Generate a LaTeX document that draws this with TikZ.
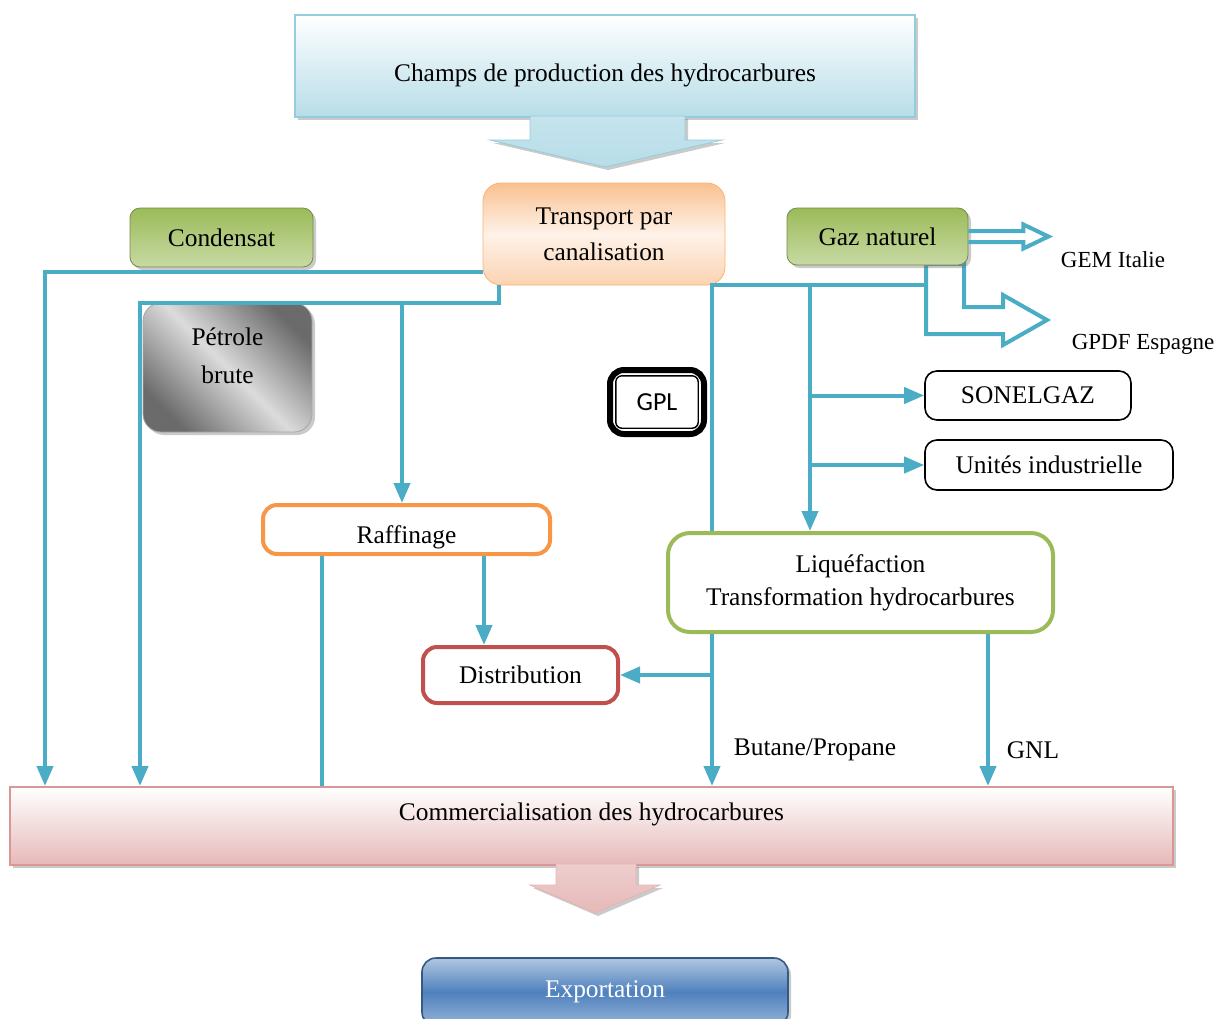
\documentclass[tikz,border=0pt]{standalone}
\usepackage{fontspec}
\setmainfont{Liberation Serif}
\newfontfamily\calibri{Carlito}
\usetikzlibrary{arrows.meta}
\usetikzlibrary{shadows}
\definecolor{bleuFleche}{HTML}{4BACC6}
\definecolor{bleuPale}{HTML}{B7DDE8}
\definecolor{bordBleu}{HTML}{93CDDD}
\definecolor{vertBoite}{HTML}{9BBB59}
\definecolor{orangeBoite}{HTML}{F79646}
\definecolor{peche}{HTML}{FAC090}
\definecolor{rougeBoite}{HTML}{C0504D}
\definecolor{rosePale}{HTML}{E6B9B8}
\definecolor{bordRose}{HTML}{D99694}
\definecolor{bleuExport}{HTML}{4F81BD}
\tikzset{
  Ligne/.style={draw=bleuFleche, line width=2pt}, % liaisons
  Boite/.style={rounded corners=5pt, align=center, inner sep=2pt},
  Ombre/.style={drop shadow={shadow xshift=1.5pt, shadow yshift=-1.5pt, opacity=0.35, fill=black!60}},
  Cadre/.style={Boite, draw=#1, line width=2pt, fill=white, rounded corners=7pt},
  Verte/.style={Boite, draw=vertBoite!75!black, top color=vertBoite, bottom color=vertBoite!55, Ombre},
  Simple/.style={Boite, draw=black, line width=0.8pt, fill=white, rounded corners=6pt},
  Etiquette/.style={inner sep=1pt}
}

\begin{document}
\begin{tikzpicture}[x=0.5pt, y=-0.5pt,
font=\fontsize{12.7}{18}\selectfont,
>={Triangle[length=10pt,width=8pt]} % pointes
]
\useasboundingbox (0,0) rectangle (1223,1019);

%Fleche creuse vers l'Espagne
\draw[Ligne] (926,264) -- (964,264) -- (964,307) -- (1003,307) -- (1003,295) -- (1047,320)
  -- (1003,345) -- (1003,334) -- (926,334) -- cycle;

%Boites
\node[Boite, draw=bordBleu, line width=1pt, rounded corners=0pt, top color=white, bottom color=bleuPale,
  Ombre, minimum width=310pt, minimum height=51pt, text height=15pt, text depth=0pt]
  (champs) at (605,66) {Champs de production des hydrocarbures};
\shade[draw=bordBleu, top color=bleuPale!80, bottom color=bleuPale, Ombre]
  (530,116) -- (530,140) -- (490,140) -- (605,167) -- (722,140) -- (685,140) -- (685,116) -- cycle;

\node[Boite, draw=peche!80!orange, top color=peche, bottom color=peche!70, middle color=peche!20,
  rounded corners=9pt, minimum width=121pt, minimum height=51pt]
  (trans) at (604,234) {Transport par\\canalisation};
\node[Verte, minimum width=91.5pt, minimum height=29.5pt] (cond) at (221.5,237.5) {Condensat};
\node[Verte, minimum width=90.5pt, minimum height=28.5pt] (gaz) at (877.5,236.5) {Gaz naturel};
\node[Boite, draw=black!35, top color=black!58, bottom color=black!58, middle color=black!14,
  shading angle=-45, rounded corners=9pt, Ombre, minimum width=84.5pt, minimum height=64.5pt,
  font=\fontsize{12.7}{19}\selectfont]
  (petrole) at (227.5,367.5) {Pétrole\\brute\\[-7pt]\mbox{}};

\node[Boite, draw=black, line width=3pt, rounded corners=7pt, fill=white,
  minimum width=47pt, minimum height=32pt, font=\calibri\fontsize{13}{15}\selectfont]
  (gpl) at (657,402) {GPL};
\draw[line width=0.7pt, rounded corners=3pt]
  ([shift={(4.4pt,-4.4pt)}]gpl.north west) rectangle ([shift={(-4.4pt,4.4pt)}]gpl.south east);

\node[Simple, minimum width=103pt, minimum height=24.5pt] (sonel) at (1028,395.5) {SONELGAZ};
\node[Simple, minimum width=124pt, minimum height=25pt] (unites) at (1049,465) {Unités industrielle};

\node[Cadre=orangeBoite, minimum width=143.5pt, minimum height=24.5pt, text height=14pt, text depth=0pt]
  (raff) at (406.5,529.5) {Raffinage};
\node[Cadre=vertBoite, rounded corners=11pt, minimum width=192.5pt, minimum height=49.5pt,
  font=\fontsize{12.7}{16.5}\selectfont]
  (liq) at (860.5,582.5) {Liquéfaction\\Transformation hydrocarbures};
\node[Cadre=rougeBoite, minimum width=97.5pt, minimum height=28pt] (dist) at (520.5,675) {Distribution};

\node[Boite, rounded corners=0pt, draw=bordRose, line width=1pt, top color=white, bottom color=rosePale,
  Ombre, minimum width=581.5pt, minimum height=39pt, text height=8pt, text depth=14pt]
  (comm) at (591.5,826) {Commercialisation des hydrocarbures};
\shade[draw=bordRose!70, top color=rosePale!70, bottom color=rosePale, Ombre]
  (556,864) -- (556,885) -- (530,885) -- (595,913) -- (660,885) -- (636,885) -- (636,864) -- cycle;

\node[Boite, rounded corners=7pt, draw=bleuExport!70!black, line width=0.8pt, top color=bleuExport!45,
  bottom color=bleuExport!60, middle color=bleuExport, text=white, Ombre,
  minimum width=183pt, minimum height=34pt]
  (export) at (605,992) {Exportation};

%Etiquettes
\node[Etiquette, font=\fontsize{11.5}{14}\selectfont] (gem) at (1113,260) {GEM Italie};
\node[Etiquette, font=\fontsize{11.5}{14}\selectfont] (gpdf) at (1143,344) {GPDF Espagne};
\node[Etiquette] (butane) at (815,750) {Butane/Propane};
\node[Etiquette] (gnl) at (1033,750) {GNL};

%Points de passage
\coordinate (k1) at (45,272);
\coordinate (k2) at (499,303);
\coordinate (k3) at (140,303);
\coordinate (k4) at (402,303);
\coordinate (k5) at (322,600);
\coordinate (k6) at (484,600);
\coordinate (k7) at (712,285);
\coordinate (k8) at (926,285);
\coordinate (k9) at (810,285);
\coordinate (k10) at (988,700);

%Fleche creuse vers l'Italie
\draw[Ligne, line join=miter] ([yshift=2.75pt]gaz.east) -- ++(27.5pt,0pt) -- ++(0pt,3.25pt) -- ++(12.5pt,-6pt)
  -- ++(-12.5pt,-6pt) -- ++(0pt,3.25pt) -- ([yshift=-2.75pt]gaz.east);

%Liaisons
\draw[Ligne,->] (trans.west |- k1) -- (k1) -- (k1 |- comm.north);
\draw[Ligne,->] (k2 |- trans.south) -- (k2) -- (k3) -- (k3 |- comm.north);
\draw[Ligne,->] (k4) -- (k4 |- raff.north);
\draw[Ligne] (k5 |- raff.south) -- (k5 |- comm.north);
\draw[Ligne,->] (k6 |- raff.south) -- (k6 |- dist.north);

\draw[Ligne] (k8) -- (k7) -- (k7 |- liq.north);
\draw[Ligne,->] (k7 |- liq.south) -- (k7 |- comm.north);
\draw[Ligne,->] (k7 |- dist.east) -- (dist.east);
\draw[Ligne,->] (k9) -- (k9 |- liq.north);
\draw[Ligne,->] (k9 |- sonel.west) -- (sonel.west);
\draw[Ligne,->] (k9 |- unites.west) -- (unites.west);
\draw[Ligne,->] (k10 |- liq.south) -- (k10 |- comm.north);

\end{tikzpicture}
\end{document}
